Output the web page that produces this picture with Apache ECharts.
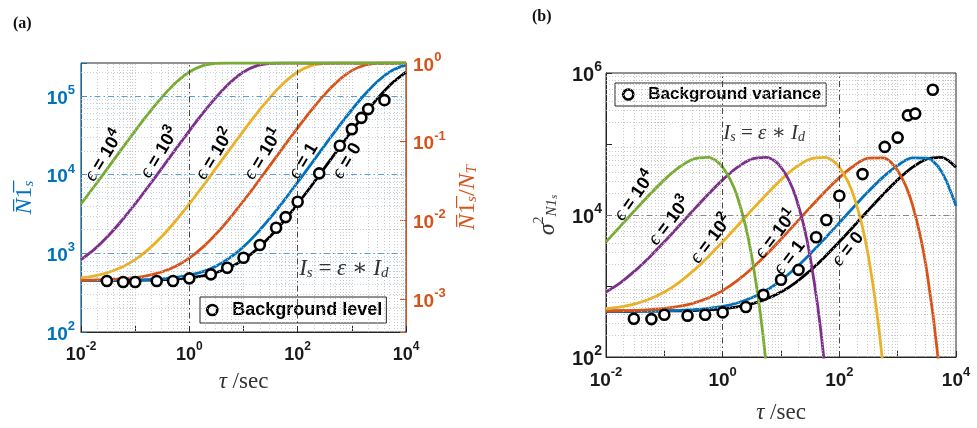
<!DOCTYPE html>
<html>
<head>
<meta charset="utf-8">
<script src="https://cdn.jsdelivr.net/npm/echarts@6/dist/echarts.min.js"></script>
<style>
  html, body { margin: 0; padding: 0; background: #fff; }
  #main { width: 977px; height: 428px; }
</style>
</head>
<body>
<div id="main"></div>
<script>
// shared time axis (quarter decades)
const tau = [0.01, 0.0178, 0.0316, 0.0562, 0.1, 0.178, 0.316, 0.562, 1, 1.78, 3.16, 5.62,
  10, 17.8, 31.6, 56.2, 100, 178, 316, 562, 1000, 1780, 3160, 5620, 10000];

// (a) mean level N1s
const levelEps0 = [450, 451, 451, 452, 454, 457, 462, 472, 488, 518, 571, 665, 833, 1131, 1659, 2597,
  4254, 7179, 12296, 21144, 36115, 60480, 97536, 147480, 202026];
const levelEps1 = [451, 451, 452, 454, 458, 464, 474, 493, 527, 586, 692, 881, 1216, 1810, 2863, 4726,
  8006, 13734, 23608, 40207, 66936, 106782, 158721, 212170, 248840];
const levelEps10 = [454, 458, 463, 474, 492, 525, 583, 687, 871, 1199, 1780, 2810, 4633, 7842, 13452,
  23122, 39404, 65677, 105008, 156586, 210309, 247903, 261365, 262969, 263000];
const levelEps100 = [488, 518, 571, 665, 833, 1131, 1659, 2597, 4254, 7179, 12296, 21144, 36115, 60480,
  97536, 147480, 202026, 243416, 260405, 262929, 263000, 263000, 263000, 263000, 263000];
const levelEps1000 = [833, 1131, 1659, 2597, 4254, 7179, 12296, 21144, 36115, 60480, 97536, 147480,
  202026, 243416, 260405, 262929, 263000, 263000, 263000, 263000, 263000, 263000, 263000, 263000, 263000];
const levelEps10000 = [4254, 7179, 12296, 21144, 36115, 60480, 97536, 147480, 202026, 243416, 260405,
  262929, 263000, 263000, 263000, 263000, 263000, 263000, 263000, 263000, 263000, 263000, 263000, 263000, 263000];

// (b) variance
const varEps0 = [440, 441, 441, 442, 444, 447, 452, 462, 478, 508, 561, 655, 822, 1119, 1644, 2569,
  4189, 6997, 11751, 19501, 31253, 46723, 61567, 64997, 46996];
const varEps1 = [441, 441, 442, 444, 448, 454, 464, 483, 517, 576, 682, 870, 1203, 1793, 2831, 4646,
  7778, 13051, 21553, 34168, 50063, 63638, 63144, 41145, 13443];
const varEps10 = [444, 448, 453, 464, 482, 515, 573, 677, 861, 1187, 1763, 2779, 4556, 7624, 12797,
  21152, 33606, 49437, 63292, 63570, 42277, 14278, 1630, 31.5, 0.028];
const varEps100 = [478, 508, 561, 655, 822, 1119, 1644, 2569, 4189, 6997, 11751, 19501, 31253, 46723,
  61567, 64997, 46996, 18187, 2578, 71.5, 0.12, null, null, null, null];
const varEps1000 = [822, 1119, 1644, 2569, 4189, 6997, 11751, 19501, 31253, 46723, 61567, 64997, 46996,
  18187, 2578, 71.5, 0.12, null, null, null, null, null, null, null, null];
const varEps10000 = [4189, 6997, 11751, 19501, 31253, 46723, 61567, 64997, 46996, 18187, 2578, 71.5, 0.12,
  null, null, null, null, null, null, null, null, null, null, null, null];

// measured background (circles)
const bgTau = [0.03, 0.06, 0.1, 0.25, 0.5, 1, 2.5, 5, 10, 20, 40, 60, 100, 250, 600, 1000, 1500, 2000, 4000];
const bgLevel = [445, 432, 432, 445, 445, 481, 541, 656, 879, 1274, 2113, 2891, 4530, 10400, 23300,
  37900, 52800, 68200, 88700];
const bgVar = [346, 342, 394, 382, 394, 425, 506, 751, 1222, 1689, 4870, 8510, 18700, 37700, 91000,
  123000, 253000, 268000, 582000];

const NT = 263000;
const xLabelExp = [-2, 0, 2, 4];
const yLabelExpB = [2, 4, 6];

const SANS = 'Liberation Sans, Arial, Helvetica, sans-serif';
const SERIF = 'Liberation Serif, DejaVu Serif, serif';
const C = {
  blue: '#0072BD', red: '#D95319', yellow: '#EDB120',
  purple: '#7E2F8E', green: '#77AC30', black: '#000000', axis: '#262626'
};

function pairs(xs, ys) {
  return xs.map((x, i) => [x, ys[i] == null ? '-' : ys[i]]);
}

function powLabel(only) {
  return function (v) {
    const l = Math.log10(v);
    const e = Math.round(l);
    if (Math.abs(l - e) > 1e-6) return '';
    if (only && only.indexOf(e) < 0) return '';
    return '{b|10}{s|' + e + '}';
  };
}
function powRich(color, size) {
  return {
    b: { fontFamily: SANS, fontWeight: 'bold', fontSize: size, color: color, lineHeight: size + 5, verticalAlign: 'bottom' },
    s: { fontFamily: SANS, fontWeight: 'bold', fontSize: Math.round(size * 0.68), color: color,
      lineHeight: Math.round(size * 0.72), verticalAlign: 'top' }
  };
}

function curve(name, ys, color, xi, yi) {
  return {
    name: name, type: 'line', xAxisIndex: xi, yAxisIndex: yi,
    data: pairs(tau, ys), showSymbol: false, symbol: 'none',
    smooth: 0.3, lineStyle: { color: color, width: 2.8 }, z: 3
  };
}

// background grid lines (major dash-dot, minor dotted)
function gridSeries(xi, yi, yDecades, yMajor, yMajorColor, yMinorColor, yMax) {
  const lines = [];
  const minorX = { color: '#bdbdbd', width: 0.8, type: [1, 2] };
  const minorY = { color: yMinorColor, width: 0.8, type: [1, 2] };
  for (let d = -2; d < 4; d++) {
    for (let m = 2; m <= 9; m++) lines.push({ xAxis: m * Math.pow(10, d), lineStyle: minorX });
  }
  lines.push({ xAxis: 0.1, lineStyle: minorX }, { xAxis: 10, lineStyle: minorX }, { xAxis: 1000, lineStyle: minorX });
  yDecades.forEach(d => {
    for (let m = 2; m <= 9; m++) {
      const v = m * Math.pow(10, d);
      if (v < yMax) lines.push({ yAxis: v, lineStyle: minorY });
    }
  });
  const dashDot = { color: '#333333', width: 0.9, type: [6, 3, 1.5, 3] };
  lines.push({ xAxis: 1, lineStyle: dashDot }, { xAxis: 100, lineStyle: dashDot });
  yMajor.forEach(v => lines.push({ yAxis: v, lineStyle: { color: yMajorColor, width: 0.9, type: [6, 3, 1.5, 3] } }));
  return {
    type: 'line', xAxisIndex: xi, yAxisIndex: yi, data: [], z: 1,
    markLine: { silent: true, symbol: 'none', label: { show: false }, animation: false, data: lines }
  };
}

function epsTag(value, exp, rot) {
  return {
    value: value,
    label: { rotate: rot, formatter: '{e|\u03F5}{t| = 10}{s|' + exp + '}' }
  };
}
function epsTagPlain(value, n, rot) {
  return { value: value, label: { rotate: rot, formatter: '{e|\u03F5}{t| = ' + n + '}' } };
}
const tagRich = {
  e: { fontFamily: SERIF, fontStyle: 'italic', fontSize: 20, color: '#000', lineHeight: 22, verticalAlign: 'bottom' },
  t: { fontFamily: SANS, fontWeight: 'bold', fontSize: 18, color: '#000', lineHeight: 22, verticalAlign: 'bottom' },
  s: { fontFamily: SANS, fontWeight: 'bold', fontSize: 14, color: '#000', lineHeight: 15, verticalAlign: 'top' }
};
function isRich(size) {
  return {
    i: { fontFamily: SERIF, fontStyle: 'italic', fontSize: size, color: '#333', lineHeight: size + 4, verticalAlign: 'bottom' },
    r: { fontFamily: SERIF, fontSize: size, color: '#333', lineHeight: size + 4, verticalAlign: 'bottom' },
    u: { fontFamily: SERIF, fontStyle: 'italic', fontSize: Math.round(size * 0.65), color: '#333',
      lineHeight: Math.round(size * 0.5), verticalAlign: 'bottom' }
  };
}
const IS_TEXT = '{i|I}{u|s}{r| = }{i|\u03B5}{r| \u2217 }{i|I}{u|d}';

function tagSeries(xi, yi, items) {
  return {
    type: 'scatter', xAxisIndex: xi, yAxisIndex: yi, symbolSize: 1, z: 6,
    itemStyle: { color: 'rgba(0,0,0,0)', opacity: 1 }, silent: true,
    label: { show: true, position: 'inside', rich: tagRich },
    data: items
  };
}

function xAxisCfg(gi, size, gap) {
  return {
    type: 'log', gridIndex: gi, min: 0.01, max: 10000,
    axisLine: { lineStyle: { color: C.axis, width: 1 } },
    axisTick: { inside: true, length: 6, lineStyle: { color: C.axis } },
    splitLine: { show: false },
    axisLabel: { margin: 9, formatter: powLabel(xLabelExp), rich: powRich('#1a1a1a', size) },
    name: '{i|\u03C4}{r| /sec}', nameLocation: 'middle', nameGap: gap,
    nameTextStyle: {
      rich: {
        i: { fontFamily: SERIF, fontStyle: 'italic', fontSize: 23, color: '#333' },
        r: { fontFamily: SERIF, fontSize: 23, color: '#333' }
      }
    }
  };
}

const bgStyle = { color: '#ffffff', borderColor: '#000000', borderWidth: 2.6, opacity: 1 };

const chart = echarts.init(document.getElementById('main'), null, { renderer: 'canvas' });

chart.setOption({
  animation: false,
  backgroundColor: '#ffffff',
  grid: [
    { left: 81, top: 63, width: 325, height: 269, show: true, borderColor: C.axis, borderWidth: 1,
      backgroundColor: '#fff', containLabel: false, outerBoundsMode: 'none' },
    { left: 606, top: 73, width: 350, height: 284, show: true, borderColor: C.axis, borderWidth: 1,
      backgroundColor: '#fff', containLabel: false, outerBoundsMode: 'none' }
  ],
  graphic: [
    { type: 'text', left: 13, top: 16, style: { text: '(a)', font: 'bold 16px ' + SERIF, fill: '#111' } },
    { type: 'text', left: 532, top: 9, style: { text: '(b)', font: 'bold 16px ' + SERIF, fill: '#111' } }
  ],
  legend: [
    {
      data: ['Background level'], left: 200, top: 297, selectedMode: false,
      backgroundColor: '#fff', borderColor: C.axis, borderWidth: 1, borderRadius: 0,
      padding: [4, 4, 4, 6], itemWidth: 30, itemHeight: 10, itemStyle: bgStyle,
      textStyle: { fontFamily: SANS, fontWeight: 'bold', fontSize: 18, color: '#000' }
    },
    {
      data: ['Background variance'], left: 615, top: 83, selectedMode: false,
      backgroundColor: '#fff', borderColor: C.axis, borderWidth: 1, borderRadius: 0,
      padding: [3, 5, 3, 7], itemWidth: 30, itemHeight: 10, itemStyle: bgStyle,
      textStyle: { fontFamily: SANS, fontWeight: 'bold', fontSize: 17, color: '#000' }
    }
  ],
  xAxis: [xAxisCfg(0, 18, 38), xAxisCfg(1, 19, 44)],
  yAxis: [
    {
      type: 'log', gridIndex: 0, min: 100, max: NT, position: 'left',
      axisLine: { lineStyle: { color: C.blue, width: 1 } },
      axisTick: { inside: true, length: 6, lineStyle: { color: C.blue } },
      splitLine: { show: false },
      axisLabel: { margin: 6, formatter: powLabel(), rich: powRich(C.blue, 19) },
      name: '{n|N\u0305}{o|1\u0305}{u|s}', nameLocation: 'middle', nameGap: 44, nameRotate: 90,
      nameTextStyle: {
        rich: {
          n: { fontFamily: SERIF, fontStyle: 'italic', fontSize: 24, color: C.blue, lineHeight: 28, verticalAlign: 'bottom' },
          o: { fontFamily: SERIF, fontSize: 24, color: C.blue, lineHeight: 28, verticalAlign: 'bottom' },
          u: { fontFamily: SERIF, fontStyle: 'italic', fontSize: 15, color: C.blue, lineHeight: 12, verticalAlign: 'bottom' }
        }
      }
    },
    {
      type: 'log', gridIndex: 0, min: 100 / NT, max: 1, position: 'right',
      axisLine: { show: true, lineStyle: { color: C.red, width: 1 } },
      axisTick: { inside: true, length: 6, lineStyle: { color: C.red } },
      splitLine: { show: false },
      axisLabel: { margin: 7, formatter: powLabel(), rich: powRich(C.red, 19) },
      name: '{n|N\u0305}{o|1\u0305}{u|s}{o|/}{n|N}{u|T}', nameLocation: 'middle', nameGap: 46, nameRotate: 90,
      nameTextStyle: {
        rich: {
          n: { fontFamily: SERIF, fontStyle: 'italic', fontSize: 24, color: C.red, lineHeight: 28, verticalAlign: 'bottom' },
          o: { fontFamily: SERIF, fontSize: 24, color: C.red, lineHeight: 28, verticalAlign: 'bottom' },
          u: { fontFamily: SERIF, fontStyle: 'italic', fontSize: 15, color: C.red, lineHeight: 12, verticalAlign: 'bottom' }
        }
      }
    },
    {
      type: 'log', gridIndex: 1, min: 100, max: 1000000, position: 'left',
      axisLine: { lineStyle: { color: C.axis, width: 1 } },
      axisTick: { inside: true, length: 6, lineStyle: { color: C.axis } },
      splitLine: { show: false },
      axisLabel: { margin: 4, formatter: powLabel(yLabelExpB), rich: powRich('#1a1a1a', 20) },
      name: '{n|\u03C3}{p|2}{u|N1}{w|s}', nameLocation: 'middle', nameGap: 46, nameRotate: 90,
      nameTextStyle: {
        rich: {
          n: { fontFamily: SERIF, fontStyle: 'italic', fontSize: 24, color: '#333', lineHeight: 28, verticalAlign: 'bottom' },
          p: { fontFamily: SERIF, fontSize: 14, color: '#333', lineHeight: 14, verticalAlign: 'top' },
          u: { fontFamily: SERIF, fontStyle: 'italic', fontSize: 15, color: '#333', lineHeight: 14, verticalAlign: 'bottom' },
          w: { fontFamily: SERIF, fontStyle: 'italic', fontSize: 11, color: '#333', lineHeight: 9, verticalAlign: 'bottom' }
        }
      }
    }
  ],
  series: [
    // panel (a)
    gridSeries(0, 0, [2, 3, 4, 5], [1000, 10000, 100000], '#4b93cf', '#a7c8e6', NT),
    curve('eps0', levelEps0, C.black, 0, 0),
    curve('eps1', levelEps1, C.blue, 0, 0),
    curve('eps10', levelEps10, C.red, 0, 0),
    curve('eps100', levelEps100, C.yellow, 0, 0),
    curve('eps1000', levelEps1000, C.purple, 0, 0),
    curve('eps10000', levelEps10000, C.green, 0, 0),
    {
      name: 'Background level', type: 'scatter', xAxisIndex: 0, yAxisIndex: 0,
      data: pairs(bgTau, bgLevel), symbol: 'circle', symbolSize: 10,
      itemStyle: bgStyle, z: 5
    },
    tagSeries(0, 0, [
      epsTag([0.0255, 17700], 4, 59),
      epsTag([0.27, 19500], 3, 59),
      epsTag([2.82, 18600], 2, 59),
      epsTag([22.2, 18600], 1, 59),
      epsTagPlain([122, 15300], 1, 59),
      epsTagPlain([774, 15300], 0, 59),
      { value: [711, 670], label: { rotate: 0, formatter: IS_TEXT, rich: isRich(23) } }
    ]),
    // panel (b)
    gridSeries(1, 2, [2, 3, 4, 5], [10000], '#7a7a7a', '#bdbdbd', 1000000),
    curve('v0', varEps0, C.black, 1, 2),
    curve('v1', varEps1, C.blue, 1, 2),
    curve('v10', varEps10, C.red, 1, 2),
    curve('v100', varEps100, C.yellow, 1, 2),
    curve('v1000', varEps1000, C.purple, 1, 2),
    curve('v10000', varEps10000, C.green, 1, 2),
    {
      name: 'Background variance', type: 'scatter', xAxisIndex: 1, yAxisIndex: 2,
      data: pairs(bgTau, bgVar), symbol: 'circle', symbolSize: 10,
      itemStyle: bgStyle, z: 5
    },
    tagSeries(1, 2, [
      epsTag([0.0297, 19100], 4, 55),
      epsTag([0.118, 8500], 3, 53),
      epsTag([0.61, 4710], 2, 53),
      epsTag([7.9, 5530], 1, 53),
      epsTagPlain([13.4, 2590], 1, 53),
      epsTagPlain([134, 3400], 0, 52),
      { value: [5.14, 148000], label: { rotate: 0, formatter: IS_TEXT, rich: isRich(21) } }
    ])
  ]
});
</script>
</body>
</html>
